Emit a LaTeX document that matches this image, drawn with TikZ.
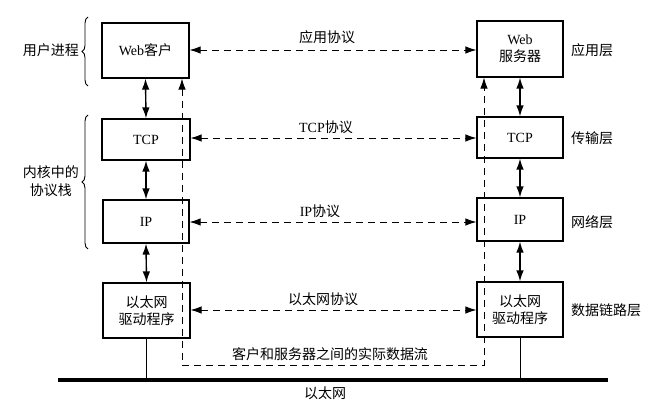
\documentclass[tikz,border=0pt]{standalone}
\usepackage{fontspec}
\setmainfont{Liberation Serif}
\newfontfamily\cjk{Noto Sans CJK SC}
\usetikzlibrary{arrows.meta,decorations.pathreplacing,calc}
\begin{document}
\begin{tikzpicture}[x=1pt,y=-1pt,
  box/.style={draw,line width=1.1pt,inner sep=0pt,align=center,font=\fontsize{14}{17}\selectfont},
  lbl/.style={inner sep=0pt,align=center,font=\fontsize{14}{18}\selectfont},
  dtip/.style={{Latex[length=11pt,width=7.5pt]}-{Latex[length=11pt,width=7.5pt]}},
  dashln/.style={dash pattern=on 7pt off 5pt,line width=0.9pt},
  vline/.style={line width=1.4pt},
  brace/.style={decorate,decoration={brace,amplitude=6pt},line width=0.9pt}]
\useasboundingbox (0,0) rectangle (657,406);
% left boxes
\node[box,minimum width=87pt,minimum height=55pt] (wc) at (145.5,50.5) {Web{\cjk 客户}};
\node[box,minimum width=88pt,minimum height=41pt] (tl) at (146,139.5) {TCP};
\node[box,minimum width=86pt,minimum height=43pt] (il) at (146,221.5) {IP};
\node[box,minimum width=87pt,minimum height=55pt] (dl) at (146.5,310.5) {\cjk 以太网\\ \cjk 驱动程序};
% right boxes
\node[box,minimum width=86pt,minimum height=56pt] (ws) at (520,49) {Web\\ \cjk 服务器};
\node[box,minimum width=86pt,minimum height=41pt] (tr) at (520,137.5) {TCP};
\node[box,minimum width=86pt,minimum height=43pt] (ir) at (520,219.5) {IP};
\node[box,minimum width=86pt,minimum height=55pt] (dr) at (520,309.5) {\cjk 以太网\\ \cjk 驱动程序};
% vertical double arrows
\draw[dtip,vline] (wc.south) -- (tl.north);
\draw[dtip,vline] (tl.south) -- (il.north);
\draw[dtip,vline] (il.south) -- (dl.north);
\draw[dtip,vline] (ws.south) -- (tr.north);
\draw[dtip,vline] (tr.south) -- (ir.north);
\draw[dtip,vline] (ir.south) -- (dr.north);
% protocol arrows
\draw[dtip,dashln] (wc.east |- 0,50) -- (ws.west |- 0,50);
\draw[dtip,dashln] (tl.east |- 0,138) -- (tr.west |- 0,138);
\draw[dtip,dashln] (il.east |- 0,222) -- (ir.west |- 0,222);
\draw[dtip,dashln] (dl.east |- 0,310) -- (dr.west |- 0,310);
\node[lbl] (pa) at (327,37) {\cjk 应用协议};
\node[lbl] (pt) at (326,127) {TCP{\cjk 协议}};
\node[lbl] (pi) at (320,211) {IP{\cjk 协议}};
\node[lbl] (pe) at (323,299) {\cjk 以太网协议};
% actual data flow
\coordinate (dfl) at (182,365);
\coordinate (dfr) at (484,365);
\draw[dtip,dashln] (wc.south -| dfl) -- (dfl) -- (dfr) -- (ws.south -| dfr);
\node[lbl] (pd) at (330,354) {\cjk 客户和服务器之间的实际数据流};
% ethernet
\coordinate (el) at (58,380);
\coordinate (er) at (608,380);
\draw[line width=3.5pt] (el) -- (er);
\draw[line width=0.9pt] (dl.south) -- (dl.south |- el);
\draw[line width=0.9pt] (dr.south) -- (dr.south |- er);
\node[lbl] (en) at (325,393) {\cjk 以太网};
% right labels
\node[lbl,anchor=west] (la) at (571,50) {\cjk 应用层};
\node[lbl,anchor=west] (lt) at (571,138) {\cjk 传输层};
\node[lbl,anchor=west] (ln) at (571,222) {\cjk 网络层};
\node[lbl,anchor=west] (ld) at (571,310) {\cjk 数据链路层};
% left braces
\draw[brace] (88,86) -- (88,17);
\draw[brace] (88,249) -- (88,115);
\node[lbl,anchor=east] (up) at (79,50) {\cjk 用户进程};
\node[lbl,anchor=east] (ks) at (79,181) {\cjk 内核中的\\ \cjk 协议栈};
\end{tikzpicture}
\end{document}
